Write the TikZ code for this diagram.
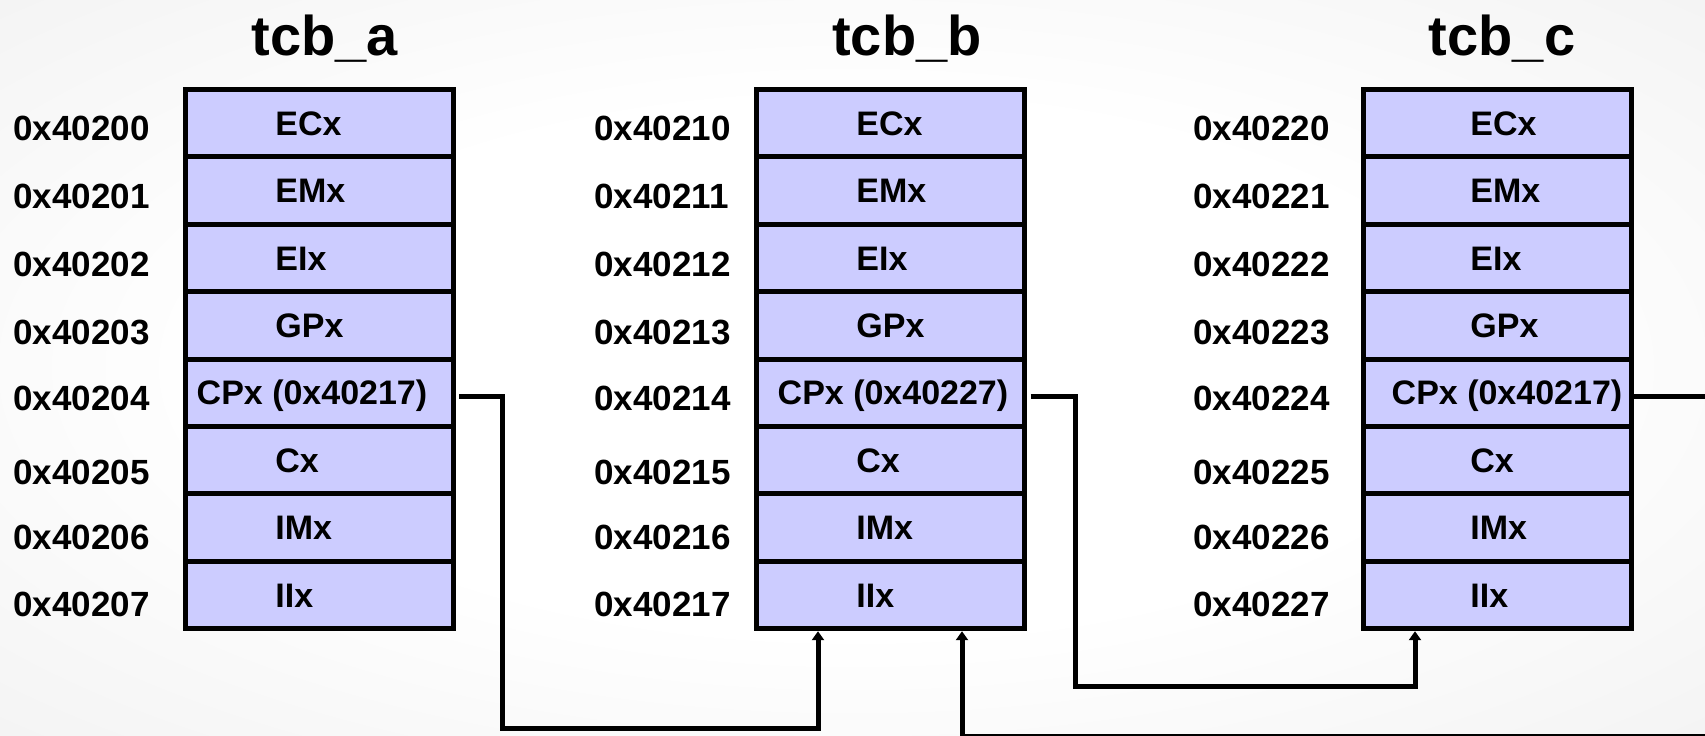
\documentclass[tikz,border=0pt]{standalone}
\usepackage{fontspec}
\setmainfont{Liberation Sans}
\usetikzlibrary{arrows.meta}
\definecolor{cellfill}{HTML}{CCCCFF}
\pgfdeclareradialshading{bgshade}{\pgfpoint{0bp}{0bp}}{color(0bp)=(white); color(18bp)=(white); color(50bp)=(black!8); color(71bp)=(black!15)}
\begin{document}
\begin{tikzpicture}[x=0.5pt,y=-0.5pt,
  cellbox/.style={draw=black, fill=cellfill, line width=2.5pt, minimum width=134pt, minimum height=33.7pt, inner sep=0pt, outer sep=0pt},
  celltext/.style={font=\fontsize{17}{17}\selectfont\bfseries, inner sep=0pt, anchor=base west},
  addr/.style={font=\fontsize{17.5}{17.5}\selectfont\bfseries, inner sep=0pt, anchor=base west},
  tcbtitle/.style={font=\fontsize{28}{28}\selectfont\bfseries, inner sep=0pt, anchor=base},
  conn/.style={line width=2.5pt, -{Triangle[length=4.5pt,width=6pt]}}]
\useasboundingbox (0,0) rectangle (1705,735);
\clip (0,0) rectangle (1705,735);
\shade[shading=bgshade] (0,0) rectangle (1705,735);

\foreach \bx/\cx/\tx/\cpx/\ax/\cp/\tix/\pre in {a/319/275/312/13/0x40217/325/0x4020, b/890.5/856/893/594/0x40227/907/0x4021, c/1497.5/1470/1507/1193/0x40217/1502/0x4022}{
  \node[tcbtitle] (\bx-title) at (\tix,55) {tcb\_\bx};
  \foreach \i/\ay in {1/140.5, 2/208.5, 3/276.5, 4/344.5, 5/410.5, 6/484.5, 7/549.5, 8/616.5}{
    \pgfmathsetmacro{\ry}{89.5+67.4*(\i-0.5)}
    \pgfmathtruncatemacro{\n}{\i-1}
    \node[cellbox] (\bx\i) at (\cx,\ry) {};
    \node[addr] (\bx-addr\i) at (\ax,\ay) {\pre\n};
  }
  \foreach \i/\lab in {1/ECx, 2/EMx, 3/EIx, 4/GPx, 6/Cx, 7/IMx, 8/IIx}{
    \pgfmathsetmacro{\ry}{89.5+67.4*(\i-0.5)+12}
    \node[celltext] (\bx-text\i) at (\tx,\ry) {\lab};
  }
  \pgfmathsetmacro{\ry}{89.5+67.4*4.5+12}
  \node[celltext, anchor=base] (\bx-text5) at (\cpx,\ry) {CPx (\cp)};
}

\draw[conn] ([xshift=3pt,yshift=-2pt]a5.east) -| (502,728.5) -| ([xshift=-36.25pt,yshift=-1.25pt]b8.south);
\draw[conn] ([xshift=3pt,yshift=-2pt]b5.east) -| (1075,686) -| ([xshift=-41.25pt,yshift=-1.25pt]c8.south);
\draw[conn] ([yshift=-2pt]c5.east) -| (1730,736.5) -| ([xshift=35.75pt,yshift=-1.25pt]b8.south);
\end{tikzpicture}
\end{document}
